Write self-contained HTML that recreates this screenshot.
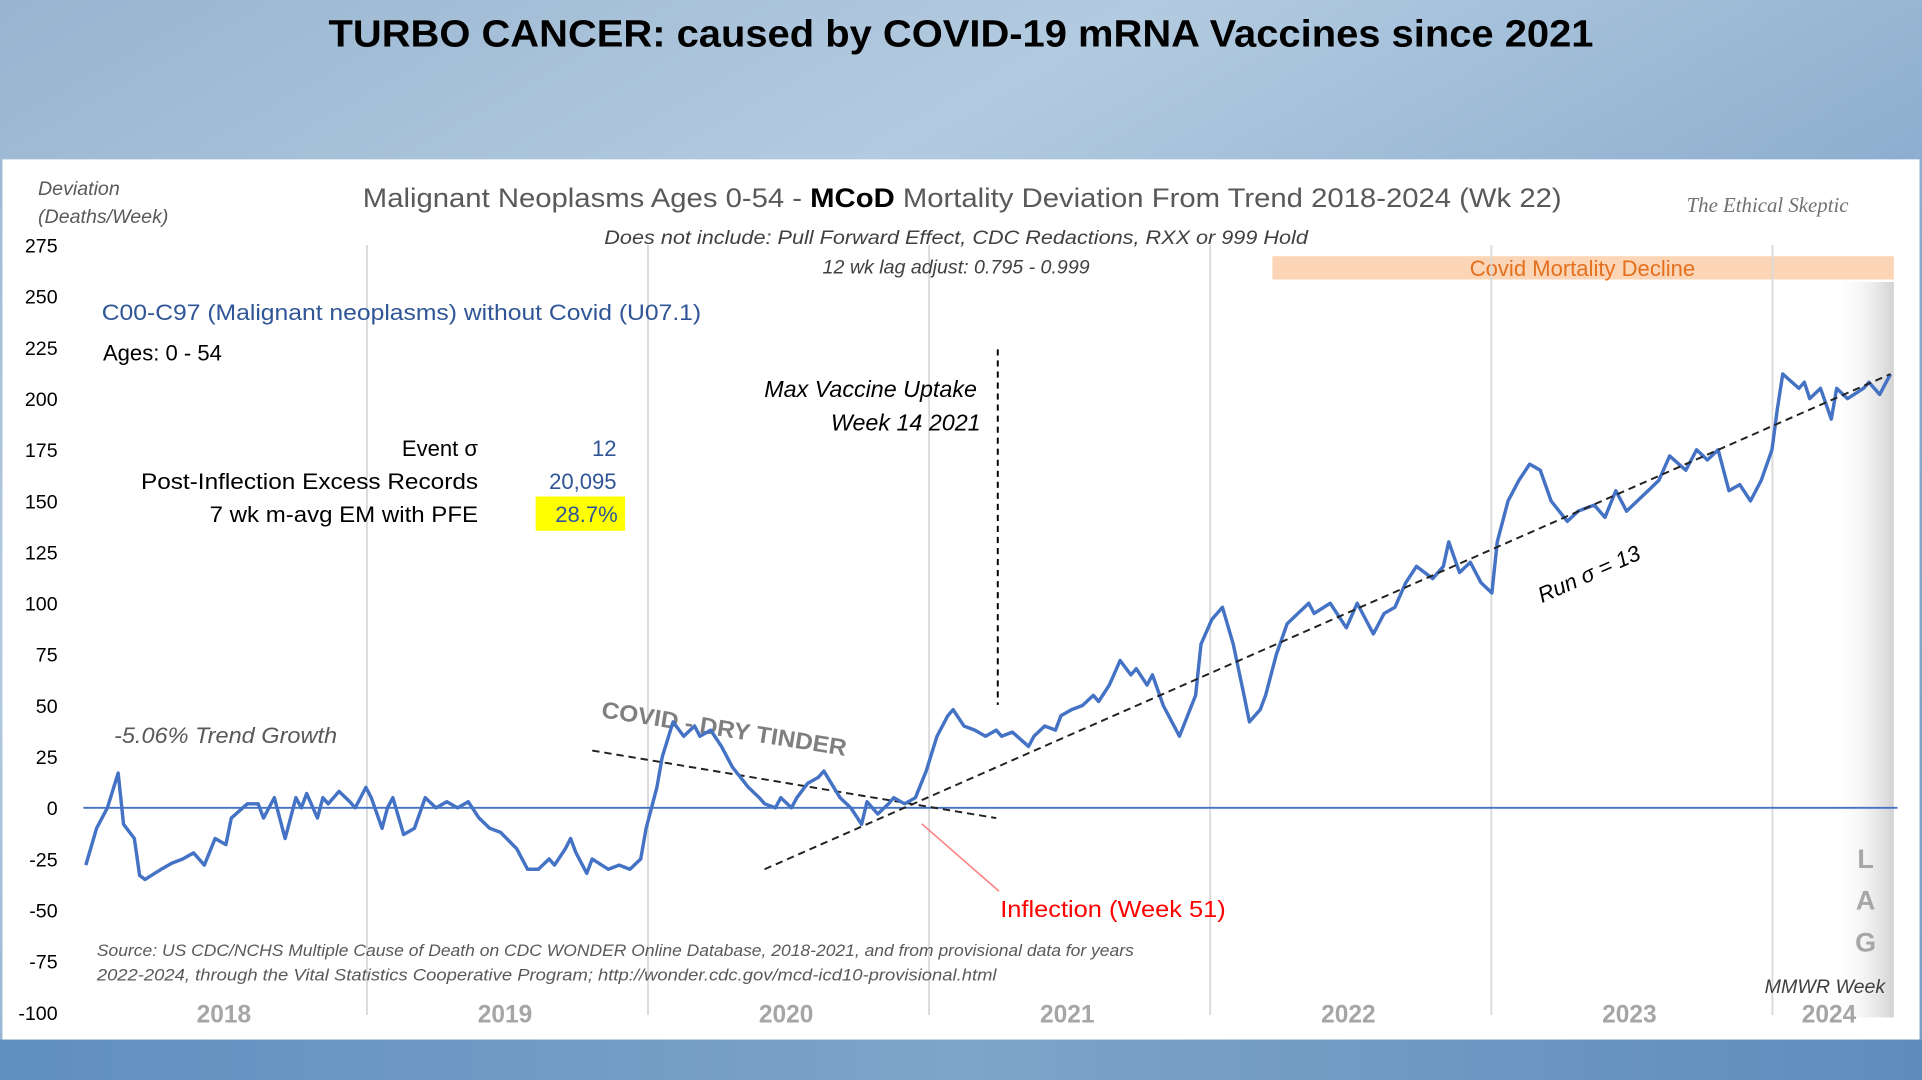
<!DOCTYPE html>
<html><head><meta charset="utf-8">
<style>
html,body{margin:0;padding:0;width:1922px;height:1080px;overflow:hidden;background:#8fb0d0;}
svg{display:block;font-family:"Liberation Sans",sans-serif;}
</style></head>
<body>
<svg id="chart" width="1922" height="1080" viewBox="0 0 1568 881" preserveAspectRatio="none" xmlns="http://www.w3.org/2000/svg">
<defs>
<linearGradient id="sky" x1="0" y1="0" x2="1" y2="1">
<stop offset="0" stop-color="#98b4d0"/><stop offset="0.3" stop-color="#b3cbe0"/><stop offset="0.6" stop-color="#89abcd"/><stop offset="1" stop-color="#7a9fc6"/>
</linearGradient>
<linearGradient id="bot" x1="0" y1="0" x2="1" y2="0">
<stop offset="0" stop-color="#5f8fbf"/><stop offset="0.5" stop-color="#7ea4c9"/><stop offset="1" stop-color="#5e8cbc"/>
</linearGradient>
<linearGradient id="lag" x1="0" y1="0" x2="1" y2="0">
<stop offset="0" stop-color="#ffffff" stop-opacity="0"/><stop offset="1" stop-color="#d2d2d2"/>
</linearGradient>
</defs>
<rect x="0" y="0" width="1568" height="881" fill="url(#sky)"/>
<rect x="0" y="848" width="1568" height="33" fill="url(#bot)"/>
<text x="784" y="38" text-anchor="middle" font-size="31" font-weight="bold" fill="#000" textLength="1032" lengthAdjust="spacingAndGlyphs">TURBO CANCER: caused by COVID-19 mRNA Vaccines since 2021</text>
<rect x="2" y="130" width="1564" height="718" fill="#fff"/>
<rect x="1038" y="209" width="507" height="19" fill="#fbd5b5"/>
<text x="1291" y="225" text-anchor="middle" font-size="18" fill="#e4701e">Covid Mortality Decline</text>
<rect x="1495" y="230" width="50" height="600" fill="url(#lag)"/>
<g id="grid"></g>
<g id="yticks"></g>
<g id="xticks"></g>
<text x="31" y="159" font-size="16" font-style="italic" fill="#595959">Deviation</text>
<text x="31" y="182" font-size="16" font-style="italic" fill="#595959">(Deaths/Week)</text>
<text x="785" y="169" text-anchor="middle" font-size="22" fill="#595959" textLength="978" lengthAdjust="spacingAndGlyphs">Malignant Neoplasms Ages 0-54 - <tspan font-weight="bold" fill="#000">MCoD</tspan> Mortality Deviation From Trend  2018-2024 (Wk 22)</text>
<text x="780" y="199" text-anchor="middle" font-size="16" font-style="italic" fill="#404040" textLength="574" lengthAdjust="spacingAndGlyphs">Does not include: Pull Forward Effect,  CDC Redactions, RXX or 999 Hold</text>
<text x="780" y="223" text-anchor="middle" font-size="16" font-style="italic" fill="#404040">12 wk lag adjust: 0.795 - 0.999</text>
<text x="1442" y="173" text-anchor="middle" font-size="17" font-style="italic" font-family="Liberation Serif,serif" fill="#707070">The Ethical Skeptic</text>
<text x="83" y="261" font-size="18" fill="#2f5597" textLength="489" lengthAdjust="spacingAndGlyphs">C00-C97 (Malignant neoplasms) without Covid (U07.1)</text>
<text x="84" y="294" font-size="18" fill="#000">Ages: 0 - 54</text>
<text x="390" y="372" text-anchor="end" font-size="18" fill="#000">Event σ</text>
<text x="503" y="372" text-anchor="end" font-size="18" fill="#2f5597">12</text>
<text x="390" y="399" text-anchor="end" font-size="18" fill="#000" textLength="275" lengthAdjust="spacingAndGlyphs">Post-Inflection Excess Records</text>
<text x="503" y="399" text-anchor="end" font-size="18" fill="#2f5597">20,095</text>
<text x="390" y="426" text-anchor="end" font-size="18" fill="#000" textLength="219" lengthAdjust="spacingAndGlyphs">7 wk m-avg EM with PFE</text>
<rect x="437" y="405" width="73" height="28" fill="#ffff00"/>
<text x="504" y="426" text-anchor="end" font-size="18" fill="#2f5597">28.7%</text>
<text x="93" y="606" font-size="18" font-style="italic" fill="#595959" textLength="182" lengthAdjust="spacingAndGlyphs">-5.06% Trend Growth</text>
<text x="490" y="585" font-size="19" font-weight="bold" fill="#7f7f7f" transform="rotate(9 490 585)" textLength="202" lengthAdjust="spacingAndGlyphs">COVID - DRY TINDER</text>
<text x="797" y="324" text-anchor="end" font-size="19" font-style="italic" fill="#000">Max Vaccine Uptake</text>
<text x="800" y="351" text-anchor="end" font-size="19" font-style="italic" fill="#000">Week 14 2021</text>
<line x1="814" y1="285" x2="814" y2="575" stroke="#000" stroke-width="1.6" stroke-dasharray="5,4"/>
<text x="1258" y="492" font-size="18" font-style="italic" fill="#000" transform="rotate(-24 1258 492)">Run σ = 13</text>
<line x1="752" y1="672" x2="815" y2="727" stroke="#ff8080" stroke-width="1.3"/>
<text x="816" y="748" font-size="19" fill="#ff0000" textLength="184" lengthAdjust="spacingAndGlyphs">Inflection (Week 51)</text>
<text x="79" y="780" font-size="13.5" font-style="italic" fill="#595959" textLength="846" lengthAdjust="spacingAndGlyphs">Source: US CDC/NCHS Multiple Cause of Death on CDC WONDER Online Database, 2018-2021, and from provisional data for years</text>
<text x="79" y="800" font-size="13.5" font-style="italic" fill="#595959" textLength="734" lengthAdjust="spacingAndGlyphs">2022-2024, through the Vital Statistics Cooperative Program; http://wonder.cdc.gov/mcd-icd10-provisional.html</text>
<text x="1522" y="708" text-anchor="middle" font-size="22" font-weight="bold" fill="#a6a6a6">L</text>
<text x="1522" y="742" text-anchor="middle" font-size="22" font-weight="bold" fill="#a6a6a6">A</text>
<text x="1522" y="776" text-anchor="middle" font-size="22" font-weight="bold" fill="#a6a6a6">G</text>
<text x="1538" y="810" text-anchor="end" font-size="16" font-style="italic" fill="#404040">MMWR Week</text>
<g id="plot"></g>
</svg>
<script>
const weeks=[0,2,4,6,7,9,10,11,14,16,18,20,22,24,26,27,30,32,33,35,37,39,40,41,43,44,45,47,49,50,52,53,55,56,57,59,61,63,65,67,69,71,73,75,77,80,82,84,86,87,89,90,91,93,94,97,99,101,103,104,106,107,109,111,113,114,116,118,120,123,125,126,128,129,131,132,134,136,137,140,142,144,145,147,149,150,152,154,156,158,160,161,163,165,167,169,170,172,175,176,178,180,181,183,185,187,188,190,192,194,195,197,198,200,202,203,206,207,209,211,213,215,216,218,219,221,223,225,227,228,231,234,236,239,241,243,245,247,250,252,253,255,257,259,261,262,264,266,268,270,272,275,277,280,282,284,286,290,292,294,297,299,301,303,305,307,309,311,313,314,315,318,319,320,322,324,325,327,330,331,333,335];
const deviation=[-28,-10,0,17,-8,-15,-33,-35,-30,-27,-25,-22,-28,-15,-18,-5,2,2,-5,5,-15,5,0,7,-5,5,2,8,3,0,10,5,-10,0,5,-13,-10,5,0,3,0,3,-5,-10,-12,-20,-30,-30,-25,-28,-20,-15,-22,-32,-25,-30,-28,-30,-25,-10,10,25,42,35,40,35,38,30,20,10,5,2,0,5,0,5,12,15,18,5,0,-8,3,-3,2,5,2,5,18,35,45,48,40,38,35,38,35,37,30,35,40,38,45,48,50,55,52,60,72,65,68,60,65,50,40,35,55,80,92,98,80,55,42,48,55,75,90,95,100,95,100,88,100,85,95,98,110,118,112,118,130,115,120,110,105,130,150,160,168,165,150,140,145,148,142,155,145,155,160,172,165,175,170,175,155,158,150,160,175,195,212,205,208,200,205,190,205,200,205,208,202,212];
const yTicks=[275,250,225,200,175,150,125,100,75,50,25,0,-25,-50,-75,-100];
const years=["2018","2019","2020","2021","2022","2023","2024"];
const trendLine=[[126,-30],[335,212]];
const tinderLine=[[94,28],[169,-5]];

const NS="http://www.w3.org/2000/svg";
const X0=70,WPX=4.395,Y0=659,UPX=41.73/25;
function xs(w){return X0+w*WPX;}
function ys(v){return Y0-v*UPX;}
function mk(tag,attrs,parent){const e=document.createElementNS(NS,tag);for(const k in attrs)e.setAttribute(k,attrs[k]);parent.appendChild(e);return e;}
const grid=document.getElementById('grid'),yt=document.getElementById('yticks'),xt=document.getElementById('xticks'),plot=document.getElementById('plot');
const lastW=weeks[weeks.length-1];
years.forEach((y,i)=>{
  if(i>0){const l=mk('line',{x1:xs(i*52.18),x2:xs(i*52.18),y1:200,y2:828,stroke:'#d9d9d9','stroke-width':1.5},grid);
  
  }
  const start=i*52.18, end=Math.min((i+1)*52.18,lastW);
  const t=mk('text',{x:xs((start+end)/2)-2,y:834,'text-anchor':'middle','font-size':20,'font-weight':'bold',fill:'#a6a6a6'},xt);
  t.textContent=y;
  
  
});
yTicks.forEach(v=>{
  const t=mk('text',{x:47,y:ys(v)+6,'text-anchor':'end','font-size':16,fill:'#000'},yt);
  t.textContent=v;
  
  
});
const zl=mk('line',{x1:68,x2:1548,y1:ys(0),y2:ys(0),stroke:'#4472c4','stroke-width':1.5},plot);


const tl=mk('line',{x1:xs(tinderLine[0][0]),y1:ys(tinderLine[0][1]),x2:xs(tinderLine[1][0]),y2:ys(tinderLine[1][1]),stroke:'#222','stroke-width':1.6,'stroke-dasharray':'6,4'},plot);


const d=weeks.map((w,i)=>(i?'L':'M')+xs(w).toFixed(1)+','+ys(deviation[i]).toFixed(1)).join(' ');
const p=mk('path',{d:d,fill:'none',stroke:'#4472c4','stroke-width':2.8,'stroke-linejoin':'round'},plot);


const rl=mk('line',{x1:xs(trendLine[0][0]),y1:ys(trendLine[0][1]),x2:xs(trendLine[1][0]),y2:ys(trendLine[1][1]),stroke:'#222','stroke-width':1.6,'stroke-dasharray':'6,4'},plot);


</script>
</body></html>
